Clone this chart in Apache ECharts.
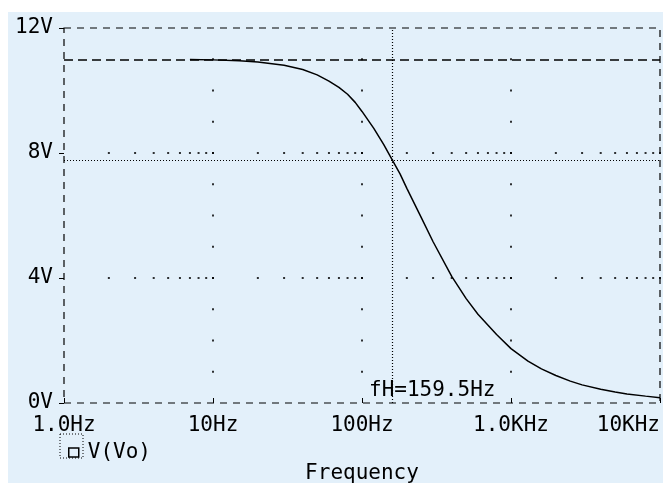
<!DOCTYPE html>
<html>
<head>
<meta charset="utf-8">
<script src="https://cdn.jsdelivr.net/npm/echarts@6/dist/echarts.min.js"></script>
<style>
html,body{margin:0;padding:0;background:#ffffff;}
#chart{width:663px;height:483px;}
</style>
</head>
<body>
<div id="chart"></div>
<script>
// ---- data ----
const freqHz = [7, 10, 15, 20, 30, 40, 50, 60, 70, 80, 90, 100, 120, 140, 159.5, 180, 200, 250, 300, 400, 500, 600, 800, 1000, 1300, 1600, 2000, 2500, 3000, 4000, 5000, 6000, 8000, 10000];
const voVolts = [10.99, 10.98, 10.95, 10.91, 10.81, 10.67, 10.50, 10.30, 10.10, 9.88, 9.62, 9.33, 8.79, 8.27, 7.78, 7.33, 6.87, 5.93, 5.16, 4.05, 3.34, 2.84, 2.19, 1.74, 1.34, 1.09, 0.88, 0.70, 0.58, 0.44, 0.35, 0.29, 0.22, 0.17];
const xTickValues = [1, 10, 100, 1000, 10000];
const xTickLabels = ['1.0Hz', '10Hz', '100Hz', '1.0KHz', '10KHz'];
const yTickLabels = ['0V', '4V', '8V', '12V'];
const cutoffFreq = 159.5;
const cutoffVolts = 7.78;
const maxVolts = 11;
const cutoffLabel = 'fH=159.5Hz';
const seriesName = 'V(Vo)';
const axisTitle = 'Frequency';
// grid dot structure (tick values)
const gridDecades = [10, 100, 1000];
const gridVoltSteps = [1, 2, 3, 4, 5, 6, 7, 8, 9, 10, 11];
const gridLevels = [4, 8];
const decadeStarts = [1, 10, 100, 1000];
const minorMults = [2, 3, 4, 5, 6, 7, 8, 9, 10];

const FONT = 'DejaVu Sans Mono';

const dots = [];
gridDecades.forEach(d => gridVoltSteps.forEach(v => dots.push([d, v])));
gridLevels.forEach(l => decadeStarts.forEach(s => minorMults.forEach(m => dots.push([s * m, l]))));

const chart = echarts.init(document.getElementById('chart'), null, {renderer: 'canvas'});
chart.setOption({
  animation: false,
  backgroundColor: '#ffffff',
  graphic: [
    {type: 'rect', z: -10, silent: true, shape: {x: 8, y: 12, width: 655, height: 471}, style: {fill: '#e3f0fa'}},
    {type: 'rect', z: 10, silent: true, shape: {x: 60, y: 434, width: 23, height: 24}, style: {fill: 'none', stroke: '#000', lineWidth: 1, lineDash: [1, 2]}}
  ],
  grid: {
    left: 64, right: 3, top: 28, bottom: 80,
    containLabel: false, outerBoundsMode: 'none',
    show: true, backgroundColor: 'transparent',
    borderColor: '#000', borderWidth: 1.2, borderType: [7, 6]
  },
  legend: {
    data: [seriesName],
    left: 63, top: 437,
    icon: 'rect', itemWidth: 10, itemHeight: 9,
    itemStyle: {color: 'transparent', borderColor: '#000', borderWidth: 1.5},
    textStyle: {fontFamily: FONT, fontSize: 21, color: '#000', padding: [0, 0, 0, 4]}
  },
  xAxis: {
    type: 'log', logBase: 10, min: 1, max: 10000,
    name: axisTitle, nameLocation: 'middle', nameGap: 60,
    nameTextStyle: {fontFamily: FONT, fontSize: 21, color: '#000'},
    axisLine: {show: false},
    axisTick: {show: true, inside: true, length: 5, lineStyle: {color: '#000'}},
    axisLabel: {
      margin: 12, fontFamily: FONT, fontSize: 21, color: '#000',
      alignMaxLabel: 'right',
      formatter: v => { const i = xTickValues.findIndex(t => Math.abs(t - v) < 1e-6 * t); return i >= 0 ? xTickLabels[i] : ''; }
    },
    splitLine: {show: false}
  },
  yAxis: {
    type: 'value', min: 0, max: 12, interval: 4,
    axisLine: {show: false},
    axisTick: {show: true, inside: false, length: 5, lineStyle: {color: '#000'}},
    axisLabel: {
      margin: 11, fontFamily: FONT, fontSize: 21, color: '#000',
      formatter: v => yTickLabels[Math.round(v / 4)]
    },
    splitLine: {show: false}
  },
  series: [
    {
      name: 'grid', type: 'scatter', silent: true, symbol: 'rect', symbolSize: 2,
      itemStyle: {color: '#000'}, data: dots, z: 1
    },
    {
      name: seriesName, type: 'line', smooth: false, showSymbol: false, symbol: 'none',
      lineStyle: {color: '#000', width: 1.5}, itemStyle: {color: '#000'},
      data: freqHz.map((f, i) => [f, voVolts[i]]), z: 5,
      markLine: {
        silent: true, symbol: 'none', label: {show: false},
        data: [
          {xAxis: cutoffFreq, lineStyle: {color: '#000', width: 1.2, type: [1, 2]}},
          {yAxis: cutoffVolts, lineStyle: {color: '#000', width: 1, type: [1, 2]}},
          {yAxis: maxVolts, lineStyle: {color: '#000', width: 1.5, type: [9, 5]}}
        ]
      },
      markPoint: {
        silent: true, symbol: 'rect', symbolSize: 0,
        label: {show: true, formatter: cutoffLabel, fontFamily: FONT, fontSize: 21, color: '#000', offset: [40, -12]},
        data: [{coord: [cutoffFreq, 0]}]
      }
    }
  ]
});
</script>
</body>
</html>
